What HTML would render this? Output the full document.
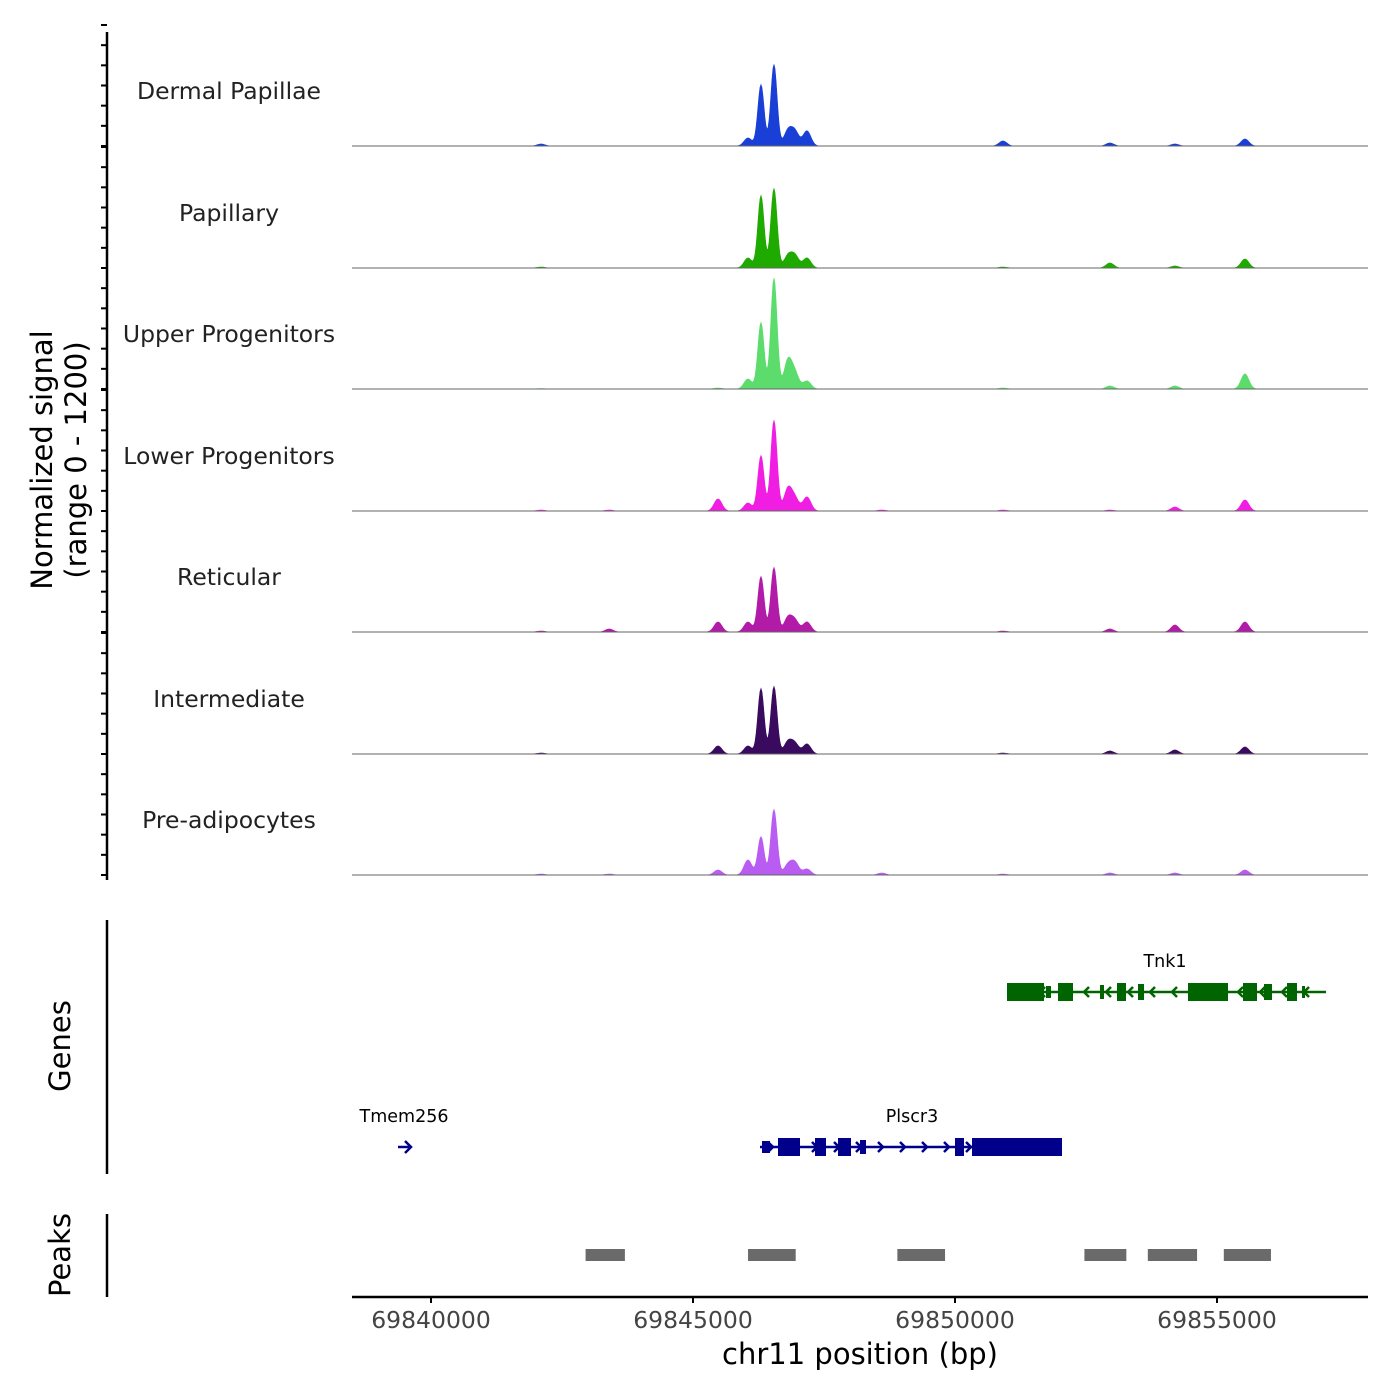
<!DOCTYPE html>
<html><head><meta charset="utf-8"><style>
html,body{margin:0;padding:0;background:#fff;}
svg{display:block;font-family:"DejaVu Sans","Liberation Sans",sans-serif;}
</style></head><body>
<svg id="chart" width="1400" height="1400" viewBox="0 0 1400 1400" xmlns="http://www.w3.org/2000/svg">
<g id="tracks"></g>
<g id="left"></g>
<g id="genes"></g>
<g id="peaks"></g>
<g id="xaxis"></g>
</svg>
<script>
const trackNames = ["Dermal Papillae","Papillary","Upper Progenitors","Lower Progenitors","Reticular","Intermediate","Pre-adipocytes"];
const trackColors = ["#1a3fd6","#1faa00","#5cdc6c","#f01ee2","#b21aa8","#3a0a5e","#b85cf2"];
const peakPositions = [69845477,69846049,69846297,69846545,69846812,69846946,69847175,69848600,69850915,69852957,69854198,69855534,69842100,69843400];
const dermalValues =   [0,  80,610,810,150,140,150,0,50,30,20,70,20,0];
const papillaryValues =[0, 100,720,790,120,120,100,0,10,50,20,90,10,0];
const upperValues =    [10,100,660,1100,280,150,80,0,10,30,30,150,5,0];
const lowerValues =    [120,80,550,900,220,120,140,10,10,10,40,110,10,10];
const reticularValues =[100,100,550,640,140,110,100,0,10,30,70,100,10,30];
const intermediateValues=[80,80,650,670,120,100,100,0,10,30,40,70,10,0];
const preadipoValues = [50,150,380,650,100,120,60,20,10,20,20,50,10,10];
const trackValues=[dermalValues,papillaryValues,upperValues,lowerValues,reticularValues,intermediateValues,preadipoValues];
const xTicks=[69840000,69845000,69850000,69855000];
const peakStarts=[69842950,69846050,69848900,69852470,69853680,69855130];
const peakEnds=[69843700,69846960,69849810,69853270,69854620,69856030];
const bpMin=69838492, bpMax=69857882, yMax=1200;
const X0=352,X1=1368;
const xs=bp=>X0+(bp-bpMin)/(bpMax-bpMin)*(X1-X0);
const base=[146,268,389,511,632,754,875];
const trackH=121;
const ys=(v,i)=>base[i]-v/yMax*trackH;
const NS="http://www.w3.org/2000/svg";
function mk(tag,attrs,parent){const e=document.createElementNS(NS,tag);for(const k in attrs)e.setAttribute(k,attrs[k]);parent.appendChild(e);return e;}
const T=document.getElementById('tracks');
trackNames.forEach((nm,i)=>{
  const g=mk('g',{},T);
  
  
  const vals=trackValues[i];
  let d=`M${X0},${base[i]}`;
  for(let px=X0;px<=X1;px+=1){
    const bp=bpMin+(px-X0)/(X1-X0)*(bpMax-bpMin);
    let v=0;
    peakPositions.forEach((p,k)=>{const s=(k>=2&&k<=3)?60:75;v+=vals[k]*Math.exp(-0.5*((bp-p)/s)**2);});
    d+=`L${px},${ys(v,i).toFixed(2)}`;
  }
  d+=`L${X1},${base[i]}Z`;
  const a=mk('path',{d:d,fill:trackColors[i],stroke:trackColors[i],'stroke-width':0.6},g);
  
  
  const l=mk('line',{x1:X0,x2:X1,y1:base[i],y2:base[i],stroke:'#666','stroke-width':1},g);
  
  
  const t=mk('text',{x:229,y:base[i]-47,'text-anchor':'middle','font-size':23.5,fill:'#222'},g);
  t.textContent=nm;
  
  
});
const L=document.getElementById('left');
mk('line',{x1:107,x2:107,y1:32,y2:880,stroke:'#000','stroke-width':2.5},L);
for(let i=0;i<7;i++){for(let k=0;k<=6;k++){const y=base[i]-k*trackH/6;mk('line',{x1:101,x2:107,y1:y,y2:y,stroke:'#000','stroke-width':2},L);}}
let yt=mk('text',{x:0,y:0,transform:'translate(52,460) rotate(-90)','text-anchor':'middle','font-size':29,fill:'#000'},L);yt.textContent='Normalized signal';

let yt2=mk('text',{x:0,y:0,transform:'translate(86,460) rotate(-90)','text-anchor':'middle','font-size':29,fill:'#000'},L);yt2.textContent='(range 0 - 1200)';

const G=document.getElementById('genes');
mk('line',{x1:107,x2:107,y1:920,y2:1174,stroke:'#000','stroke-width':2.5},G);
let gt=mk('text',{x:0,y:0,transform:'translate(70,1046) rotate(-90)','text-anchor':'middle','font-size':29},G);gt.textContent='Genes';

function gene(name,x1,x2,y,color,exons,dir,lx){
  const g=mk('g',{},G);
  
  
  mk('line',{x1:x1,x2:x2,y1:y,y2:y,stroke:color,'stroke-width':2.5},g);
  for(let x=x1+12;x<x2-6;x+=22){const p=dir>0?`M${x-4},${y-5}L${x+1},${y}L${x-4},${y+5}`:`M${x+4},${y-5}L${x-1},${y}L${x+4},${y+5}`;mk('path',{d:p,stroke:color,fill:'none','stroke-width':2.5},g);}
  exons.forEach(e=>mk('rect',{x:e[0],y:y-e[2]/2,width:e[1]-e[0],height:e[2],fill:color},g));
  const t=mk('text',{x:lx,y:y-25,'text-anchor':'middle','font-size':17.5},g);t.textContent=name;
  return g;
}
gene('Tnk1',1007,1326,992,'#006400',[[1007,1044,18],[1046,1051,12],[1058,1073,18],[1100,1104,14],[1117,1126,18],[1138,1144,16],[1188,1228,18],[1243,1257,18],[1264,1272,16],[1287,1297,18],[1302,1305,12]],-1,1165);
gene('Plscr3',760,1062,1147,'#00008b',[[762,770,12],[778,800,18],[815,826,18],[838,851,18],[860,866,14],[955,964,18],[972,1062,18]],1,912);
const tm=gene('Tmem256',398,409,1147,'#00008b',[],1,404);
mk('path',{d:'M405,1141L411,1147L405,1153',stroke:'#00008b',fill:'none','stroke-width':2.5},tm);
const P=document.getElementById('peaks');
mk('line',{x1:107,x2:107,y1:1214,y2:1297,stroke:'#000','stroke-width':2.5},P);
let pt=mk('text',{x:0,y:0,transform:'translate(70,1255) rotate(-90)','text-anchor':'middle','font-size':29},P);pt.textContent='Peaks';

peakStarts.forEach((s,i)=>{const r=mk('rect',{x:xs(s),y:1249,width:xs(peakEnds[i])-xs(s),height:12,fill:'#6a6a6a'},P);
});
const XA=document.getElementById('xaxis');
mk('line',{x1:X0,x2:X1,y1:1297,y2:1297,stroke:'#000','stroke-width':2.5},XA);
xTicks.forEach(v=>{const x=xs(v);mk('line',{x1:x,x2:x,y1:1297,y2:1303,stroke:'#000','stroke-width':2},XA);
const t=mk('text',{x:x,y:1328,'text-anchor':'middle','font-size':23.5,fill:'#444'},XA);t.textContent=String(v);
});
let xt=mk('text',{x:860,y:1364,'text-anchor':'middle','font-size':29},XA);xt.textContent='chr11 position (bp)';

</script>
</body></html>
